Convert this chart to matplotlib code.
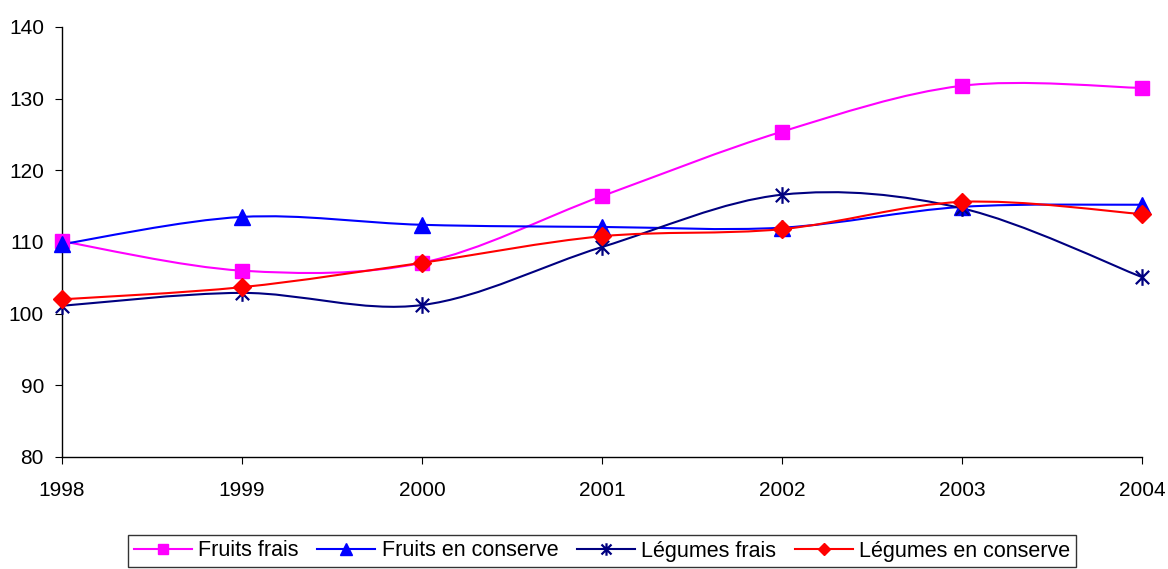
import matplotlib
matplotlib.use("Agg")
import matplotlib.pyplot as plt
from matplotlib.path import Path
from matplotlib.patches import PathPatch
from matplotlib import font_manager

years = [1998, 1999, 2000, 2001, 2002, 2003, 2004]
fruits_frais = [110.1, 106.0, 107.1, 116.4, 125.4, 131.8, 131.5]
fruits_conserve = [109.7, 113.5, 112.4, 112.1, 112.0, 114.9, 115.2]
legumes_frais = [101.1, 102.9, 101.2, 109.3, 116.6, 114.7, 105.1]
legumes_conserve = [102.0, 103.7, 107.1, 110.8, 111.8, 115.6, 113.9]
labels = ["Fruits frais", "Fruits en conserve", "Légumes frais", "Légumes en conserve"]
yticks = [80, 90, 100, 110, 120, 130, 140]

names = {f.name for f in font_manager.fontManager.ttflist}
base_font = "Liberation Sans" if "Liberation Sans" in names else "DejaVu Sans"
plt.rcParams['font.family'] = [base_font, 'DejaVu Sans']

fig = plt.figure(figsize=(11.68, 5.69), dpi=100)
ax = fig.add_axes([62/1168, 112/569, (1142-62)/1168, (457-27)/569])

star = Path([(-1, -1), (1, 1), (-1, 1), (1, -1), (0, -1.25), (0, 1.25)],
            [Path.MOVETO, Path.LINETO, Path.MOVETO, Path.LINETO, Path.MOVETO, Path.LINETO])

series = [
    (fruits_frais, "#FF00FF", dict(marker='s', markerfacecolor="#FF00FF", markeredgecolor="#FF00FF"), 10, 6.5),
    (fruits_conserve, "#0000FF", dict(marker='^', markerfacecolor="#0000FF", markeredgecolor="#0000FF"), 11.5, 8),
    (legumes_frais, "#000080", dict(marker=star, markerfacecolor='none', markeredgecolor="#000080", markeredgewidth=1.6), 12, 9),
    (legumes_conserve, "#FF0000", dict(marker='D', markerfacecolor="#FF0000", markeredgecolor="#FF0000"), 9.5, 6.5),
]

def smooth_path(xs, ys):
    pts = list(zip(xs, ys))
    n = len(pts)
    verts = [pts[0]]
    codes = [Path.MOVETO]
    for i in range(n - 1):
        p0 = pts[i - 1] if i > 0 else pts[i]
        p1 = pts[i]
        p2 = pts[i + 1]
        p3 = pts[i + 2] if i + 2 < n else pts[i + 1]
        c1 = (p1[0] + (p2[0] - p0[0]) / 6, p1[1] + (p2[1] - p0[1]) / 6)
        c2 = (p2[0] - (p3[0] - p1[0]) / 6, p2[1] - (p3[1] - p1[1]) / 6)
        verts += [c1, c2, p2]
        codes += [Path.CURVE4] * 3
    return Path(verts, codes)

handles = []
for (vals, color, mk, ms, lms), lab in zip(series, labels):
    ax.add_patch(PathPatch(smooth_path(years, vals), facecolor='none', edgecolor=color, lw=1.5, zorder=2))
    ax.plot(years, vals, linestyle='none', zorder=3, clip_on=False, markersize=ms, **mk)
    handles.append(plt.Line2D([], [], color=color, lw=1.5, markersize=lms, **mk))

ax.set_xlim(1998, 2004)
ax.set_ylim(80, 140)
ax.set_yticks(yticks)
ax.set_xticks(years)
ax.spines['top'].set_visible(False)
ax.spines['right'].set_visible(False)
for s in ['left', 'bottom']:
    ax.spines[s].set_linewidth(1.0)
    ax.spines[s].set_color('black')
ax.tick_params(axis='y', direction='out', length=5, labelsize=15, pad=8)
ax.tick_params(axis='x', direction='out', length=5, labelsize=15, pad=12)

leg = fig.legend(handles, labels, loc='center', bbox_to_anchor=(602/1168, 1 - 551/569), ncol=4,
                 frameon=True, fancybox=False, edgecolor='black', handlelength=2.7,
                 handletextpad=0.3, columnspacing=0.85, borderpad=0.25, borderaxespad=0,
                 prop={'size': 15.5})
leg.get_frame().set_linewidth(1.0)

fig.savefig("out.png", dpi=100)
